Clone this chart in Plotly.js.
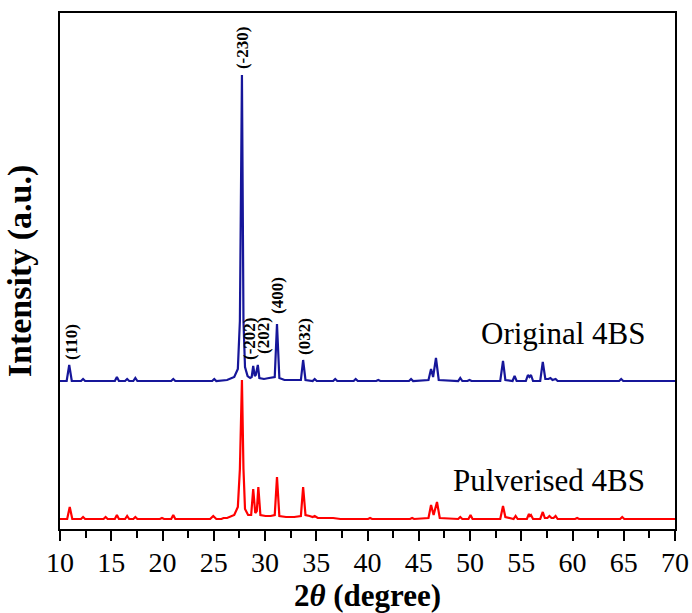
<!DOCTYPE html>
<html>
<head>
<meta charset="utf-8">
<script src="https://cdn.plot.ly/plotly-3.0.1.min.js"></script>
<style>html,body{margin:0;padding:0;background:#fff;}#chart{width:692px;height:613px;}</style>
</head>
<body>
<div id="chart"></div>
<script>
// 2-theta (degree) vertices and intensities (a.u.)
const originalTheta = [10.0,10.65,10.9,11.15,12.05,12.25,12.45,15.35,15.55,15.75,16.35,16.55,16.75,17.15,17.35,17.55,20.85,21.05,21.25,24.85,25.05,25.25,26.3,27.0,27.35,27.55,27.75,27.9,28.05,28.3,28.55,28.7,28.85,29.0,29.1,29.3,29.45,29.9,30.4,30.95,31.17,31.4,31.9,33.5,33.72,33.95,34.65,34.85,35.05,36.65,36.85,37.05,38.65,38.85,39.05,40.85,41.05,41.25,44.05,44.25,44.45,45.95,46.2,46.4,46.68,46.95,48.85,49.05,49.25,49.75,49.95,50.15,52.95,53.22,53.45,54.15,54.35,54.55,55.45,55.65,55.8,55.95,56.15,56.85,57.1,57.35,57.65,57.85,58.05,58.35,58.55,64.55,64.75,64.95,70.0];
const originalIntensity = [0,0,16,0,0,2,0,0,4,0,0,2,0,0,3,0,0,2,0,0,2,0,1,4,12,60,306,60,14,5,3,4,15,5,6,16,3,2,3,4,57,3,1,1,21,1,0,2,0,0,2,0,0,2,0,0,1,0,0,2,0,1,12,4,23,1,0,3,0,0,1,0,0,20,1,0,5,0,0,6,4,6,0,0,19,2,2,3,1,2,0,0,2,0,0];

const pulverisedTheta = [10.0,10.7,10.95,11.2,12.05,12.25,12.45,14.25,14.45,14.65,15.35,15.55,15.75,16.35,16.55,16.75,17.15,17.35,17.55,19.75,19.95,20.15,20.85,21.05,21.25,24.65,24.95,25.25,25.75,25.95,26.3,27.0,27.35,27.55,27.75,27.9,28.05,28.35,28.65,28.85,29.05,29.2,29.35,29.55,30.05,30.55,30.95,31.17,31.4,32.05,32.85,33.5,33.72,33.95,34.35,34.65,34.85,35.15,35.85,36.65,37.35,40.05,40.25,40.45,44.15,44.35,44.55,45.95,46.2,46.45,46.78,47.05,48.85,49.05,49.25,49.85,50.05,50.25,52.95,53.22,53.45,53.85,54.25,54.45,54.65,55.55,55.75,55.85,55.95,56.15,56.85,57.1,57.3,57.55,57.75,57.95,58.15,58.35,58.55,60.25,60.45,60.65,64.65,64.85,65.05,70.0];
const pulverisedIntensity = [0,0,12,0,0,2,0,0,2,0,0,4,0,0,3,0,0,2,0,0,1,0,0,4,0,0,3,0,0,1,1,4,12,50,139,50,10,4,4,30,6,8,32,4,3,3,4,42,3,2,2,3,32,4,3,2,3,1,1,1,0,0,1,0,0,1,0,1,14,4,17,1,0,2,0,0,4,0,0,13,2,1,0,3,0,0,5,3,4,0,0,7,1,1,3,1,1,3,0,0,1,0,0,2,0,0];

const originalOffset = 148;
const pulverisedOffset = 10;

const peakLabels = ['(110)','(-230)','(-202)','(202)','(400)','(032)'];
const peakLabelTheta = [11.07,27.76,28.44,29.8,31.17,33.8];
const peakLabelY = [187,481,190,194,234,193];

const seriesNames = ['Original 4BS','Pulverised 4BS'];
const xTicks = [10,15,20,25,30,35,40,45,50,55,60,65,70];

const serif = 'Liberation Serif, Times New Roman, serif';

const traces = [
  {x: originalTheta, y: originalIntensity.map(v => v + originalOffset), type:'scatter', mode:'lines',
   line:{color:'#16169a', width:2.2}, name: seriesNames[0], hoverinfo:'x+y'},
  {x: pulverisedTheta, y: pulverisedIntensity.map(v => v + pulverisedOffset), type:'scatter', mode:'lines',
   line:{color:'#ff0000', width:2.2}, name: seriesNames[1], hoverinfo:'x+y'}
];

const annotations = peakLabels.map((t,i) => ({
  x: peakLabelTheta[i], y: peakLabelY[i], xref:'x', yref:'y', text:'<b>'+t+'</b>',
  showarrow:false, textangle:-90, font:{family:serif, size:17, color:'#000'}
}));
annotations.push({x:67.27, y:196, xref:'x', yref:'y', xanchor:'right', text:seriesNames[0], showarrow:false,
  font:{family:serif, size:31, color:'#000'}});
annotations.push({x:67.27, y:49, xref:'x', yref:'y', xanchor:'right', text:seriesNames[1], showarrow:false,
  font:{family:serif, size:31, color:'#000'}});

const layout = {
  width:692, height:613,
  margin:{l:60, r:17, t:13, b:84},
  paper_bgcolor:'#fff', plot_bgcolor:'#fff',
  showlegend:false,
  xaxis:{
    range:[10,70], tickmode:'array', tickvals:xTicks, ticktext:xTicks.map(String),
    ticks:'outside', ticklen:10, tickwidth:2, tickcolor:'#000', ticklabelstandoff:-3,
    minor:{dtick:2.5, tick0:10, ticks:'outside', ticklen:7, tickwidth:2, tickcolor:'#000'},
    showline:true, linewidth:2, linecolor:'#000', mirror:true, showgrid:false, zeroline:false,
    tickfont:{family:serif, size:28, color:'#000'},
    title:{text:'<b>2<i>θ</i> (degree)</b>', font:{family:serif, size:31, color:'#000'}, standoff:6}
  },
  yaxis:{
    range:[0,516], showticklabels:false, ticks:'', showline:true, linewidth:2, linecolor:'#000',
    mirror:true, showgrid:false, zeroline:false,
    title:{text:'<b>Intensity (a.u.)</b>', font:{family:serif, size:34, color:'#000'}, standoff:16}
  },
  annotations: annotations
};

Plotly.newPlot('chart', traces, layout, {displayModeBar:false, staticPlot:true});
</script>
</body>
</html>
